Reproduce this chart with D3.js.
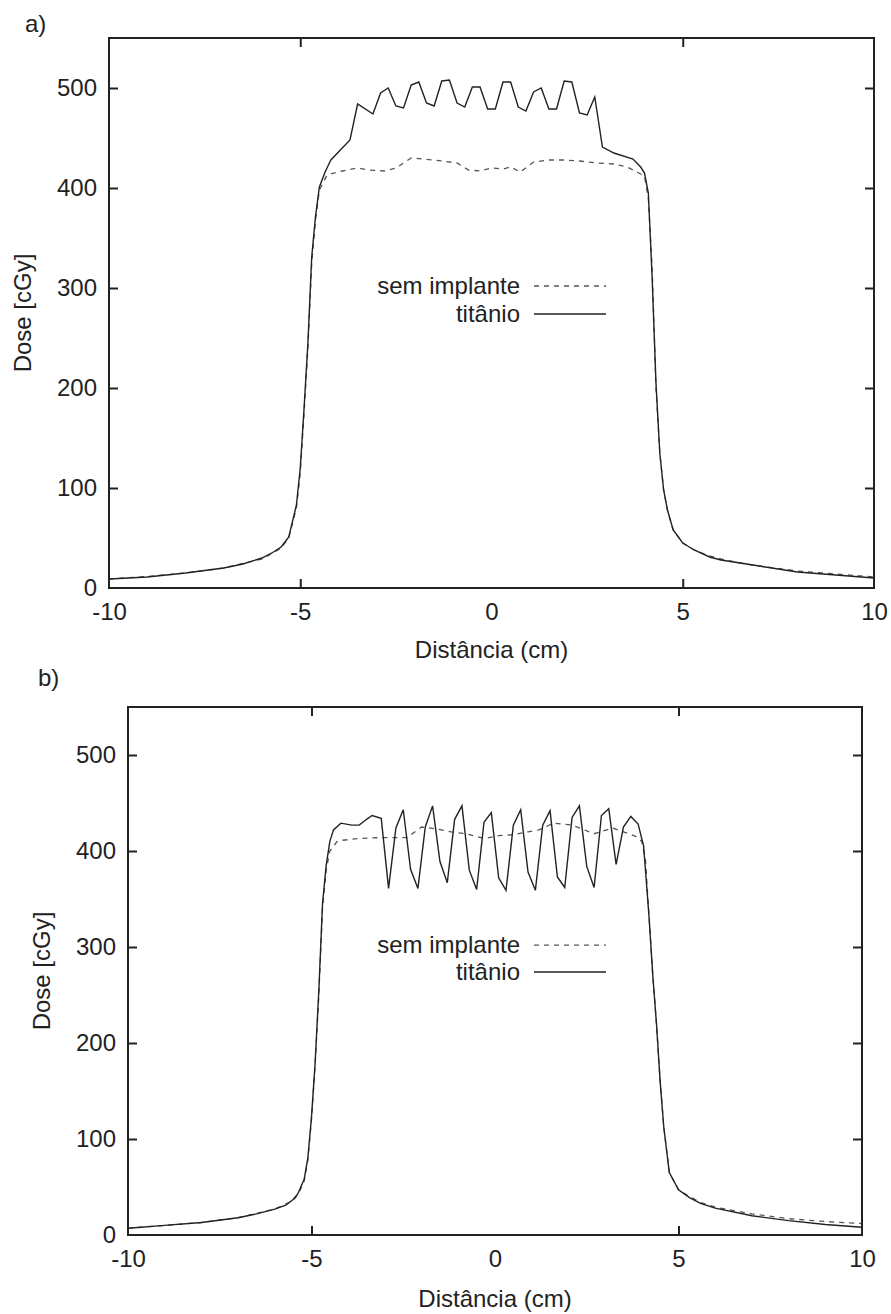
<!DOCTYPE html>
<meta charset="utf-8">

<style type="text/css">
    body { margin: 0; background: #fff; }
    text { font-family: "Liberation Sans", Arial, sans-serif; fill: #222; }

    /* solid line = titanio, dashed = sem implante */
    .line-ti {
        fill: none;
        stroke: #222;
        stroke-width: 1.4;
    }
    .line-sem {
        fill: none;
        stroke: #555;
        stroke-width: 1.3;
        stroke-dasharray: 5, 5;
    }
    .frame {
        fill: none;
        stroke: #222;
        stroke-width: 2;
    }
    .tick line { stroke: #222; stroke-width: 2; }
</style>
<body>
</body>

<script src="https://d3js.org/d3.v7.min.js"></script>
<script>

// ---- data (x in cm, dose in cGy) ----

// a) titanio
var xTiA = [-10, -9, -8, -7, -6.5, -6, -5.7, -5.5, -5.3, -5.1, -5.0, -4.9, -4.8, -4.7, -4.6, -4.5, -4.35, -4.2, -3.7, -3.5,
    -3.1, -2.9, -2.7, -2.5, -2.3, -2.1, -1.9, -1.7, -1.5, -1.3, -1.1, -0.9, -0.7, -0.5, -0.3, -0.1, 0.1, 0.3, 0.5, 0.7,
    0.9, 1.1, 1.3, 1.5, 1.7, 1.9, 2.1, 2.3, 2.5, 2.7, 2.9, 3.2, 3.7, 3.9, 4.0, 4.1, 4.2, 4.3, 4.4, 4.5,
    4.6, 4.75, 5.0, 5.3, 5.7, 6, 6.5, 7, 8, 9, 10];
var doseTiA = [9, 11, 15, 20, 24, 30, 36, 41, 51, 83, 120, 180, 245, 331, 372, 401, 416, 428, 448, 484,
    474, 495, 500, 482, 480, 503, 506, 485, 482, 507, 508, 485, 481, 501, 501, 479, 479, 506, 506, 481,
    477, 496, 500, 479, 479, 507, 506, 475, 473, 491, 441, 435, 429, 421, 415, 395, 310, 205, 135, 98,
    78, 58, 45, 38, 31, 28, 25, 22, 16, 13, 10];

// a) sem implante
var xSemA = [-10, -9, -8, -7, -6, -5.5, -5.3, -5.1, -5.0, -4.9, -4.8, -4.7, -4.6, -4.5, -4.3, -3.9, -3.5, -3.2, -2.8, -2.5,
    -2.1, -1.8, -1.3, -0.9, -0.6, -0.3, 0.0, 0.3, 0.5, 0.75, 1.1, 1.5, 1.9, 2.3, 2.75, 3.2, 3.55, 3.85, 4.0, 4.1,
    4.2, 4.3, 4.4, 4.5, 4.6, 4.75, 5.0, 5.3, 5.7, 6, 6.5, 7, 8, 9, 10];
var doseSemA = [9, 11.5, 15, 20, 29, 40, 50, 80, 115, 175, 240, 325, 368, 398, 413, 417, 420, 418, 417, 420,
    430, 429, 427, 425, 418, 417, 420, 419, 421, 416, 426, 428, 428, 427, 425, 424, 421, 415, 412, 390,
    320, 200, 135, 98, 78, 58, 45, 38, 32, 29, 25, 22, 17, 14, 11];

// b) titanio
var xTiB = [-10, -9, -8, -7, -6.5, -6, -5.7, -5.5, -5.37, -5.2, -5.1, -5.0, -4.9, -4.8, -4.7, -4.6, -4.5, -4.4, -4.2, -3.9,
    -3.7, -3.5, -3.35, -3.1, -2.9, -2.7, -2.5, -2.3, -2.1, -1.9, -1.7, -1.5, -1.3, -1.1, -0.9, -0.7, -0.5, -0.3, -0.1, 0.1,
    0.3, 0.5, 0.7, 0.9, 1.1, 1.3, 1.5, 1.7, 1.9, 2.1, 2.3, 2.5, 2.7, 2.9, 3.1, 3.3, 3.5, 3.7, 3.9, 4.05,
    4.2, 4.3, 4.4, 4.5, 4.6, 4.75, 5.0, 5.3, 5.6, 6, 7, 8, 9, 10];
var doseTiB = [7, 10, 13, 18, 22, 27, 31, 37, 43, 58, 80, 123, 180, 255, 345, 385, 410, 422, 429, 427,
    427, 433, 437, 434, 361, 424, 443, 381, 361, 425, 447, 389, 367, 433, 447, 380, 360, 430, 440, 372,
    359, 427, 443, 378, 359, 427, 442, 373, 362, 435, 447, 384, 362, 437, 444, 386, 425, 436, 428, 405,
    330, 270, 220, 160, 112, 65, 47, 39, 33, 28, 20, 15, 11, 8];

// b) sem implante
var xSemB = [-10, -9, -8, -7, -6, -5.5, -5.37, -5.2, -5.1, -5.0, -4.9, -4.8, -4.7, -4.6, -4.5, -4.3, -4.2, -3.7, -3.1, -2.4,
    -2.0, -1.6, -1.2, -0.8, -0.3, 0.1, 0.5, 0.9, 1.2, 1.6, 2.1, 2.7, 3.2, 3.5, 3.85, 4.0, 4.1, 4.2, 4.3, 4.4,
    4.5, 4.6, 4.75, 5.0, 5.3, 5.6, 6, 7, 8, 9, 10];
var doseSemB = [7, 10, 13, 18, 27, 36, 42, 56, 78, 120, 178, 250, 340, 380, 400, 410, 411, 413, 414, 414,
    425, 423, 420, 418, 413, 416, 417, 420, 422, 429, 427, 418, 424, 420, 415, 410, 390, 330, 270, 220,
    160, 112, 65, 47, 40, 34, 29, 22, 17, 14, 12];

var xTicks = [-10, -5, 0, 5, 10];
var yTicks = [0, 100, 200, 300, 400, 500];
var seriesNames = ["sem implante", "titânio"];

function zip(xs, ys) {
    return xs.map(function (x, i) { return {x: x, y: ys[i]}; });
}

var svg = d3.select("body").append("svg")
    .attr("width", 891)
    .attr("height", 1314);

// plain hyphen minus like the original, not d3's unicode minus
var plain = function (d) { return String(d); };

// one panel: box is the plot frame in page pixels
function panel(box, label, sem, ti) {
    var g = svg.append("g");

    var xScale = d3.scaleLinear().domain([-10, 10]).range([box.left, box.right]);
    var yScale = d3.scaleLinear().domain([0, 550]).range([box.bottom, box.top]);

    var line = d3.line()
        .x(function (d) { return xScale(d.x); })
        .y(function (d) { return yScale(d.y); });

    // axes with inward ticks (gnuplot style, mirrored on top/right)
    var ax = [
        [d3.axisLeft(yScale).tickValues(yTicks), "translate(" + box.left + ",0)", true, 12],
        [d3.axisRight(yScale).tickValues(yTicks), "translate(" + box.right + ",0)", false, 12],
        [d3.axisBottom(xScale).tickValues(xTicks), "translate(0," + box.bottom + ")", true, 15],
        [d3.axisTop(xScale).tickValues(xTicks), "translate(0," + box.top + ")", false, 12]
    ];
    ax.forEach(function (a) {
        var axis = a[0].tickSizeInner(-9).tickSizeOuter(0).tickPadding(a[3])
            .tickFormat(a[2] ? plain : "");
        var s = g.append("g").attr("transform", a[1]).call(axis);
        s.select(".domain").remove();
        s.selectAll("text").attr("font-size", 24).attr("font-family", null).attr("fill", "#222");
    });
    g.selectAll(".tick").filter(function (d) { return d === 0 || d === -10 || d === 10; })
        .select("line").remove();

    g.append("path").datum(sem).attr("class", "line-sem").attr("d", line);
    g.append("path").datum(ti).attr("class", "line-ti").attr("d", line);

    g.append("rect").attr("class", "frame")
        .attr("x", box.left).attr("y", box.top)
        .attr("width", box.right - box.left).attr("height", box.bottom - box.top);

    // legend
    var ly = [yScale(302), yScale(274)];
    [ "line-sem", "line-ti" ].forEach(function (cls, i) {
        g.append("text").attr("x", 520).attr("y", ly[i] + 8)
            .attr("text-anchor", "end").attr("font-size", 24).text(seriesNames[i]);
        g.append("line").attr("class", cls)
            .attr("x1", 534).attr("x2", 606).attr("y1", ly[i]).attr("y2", ly[i]);
    });

    // axis titles
    g.append("text")
        .attr("transform", "translate(" + box.yLabelX + "," + (box.top + box.bottom) / 2 + ") rotate(-90)")
        .attr("text-anchor", "middle").attr("font-size", 24).text("Dose [cGy]");
    g.append("text")
        .attr("x", (box.left + box.right) / 2).attr("y", box.xLabelY)
        .attr("text-anchor", "middle").attr("font-size", 24).text("Distância (cm)");

    g.append("text").attr("x", box.tagX).attr("y", box.tagY).attr("font-size", 24).text(label);
}

panel({left: 109, right: 874, top: 38, bottom: 588, yLabelX: 31, xLabelY: 658, tagX: 25, tagY: 32},
    "a)", zip(xSemA, doseSemA), zip(xTiA, doseTiA));
panel({left: 128, right: 862, top: 707, bottom: 1235, yLabelX: 50, xLabelY: 1307, tagX: 38, tagY: 686},
    "b)", zip(xSemB, doseSemB), zip(xTiB, doseTiB));

</script>
